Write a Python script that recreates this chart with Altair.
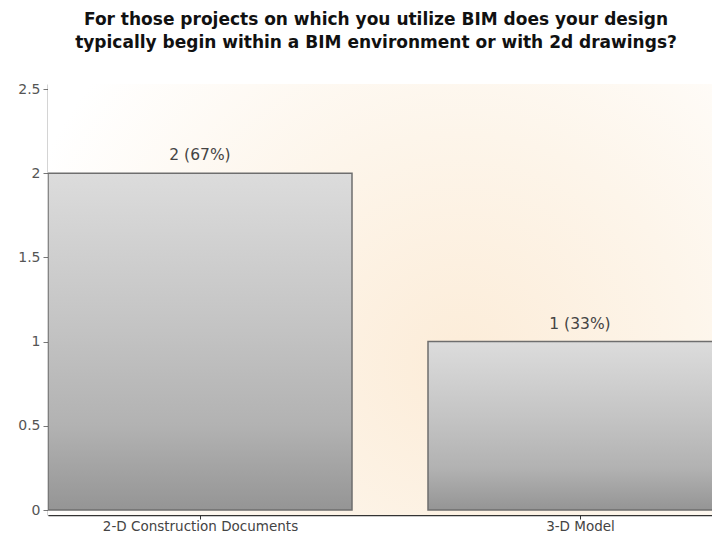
import altair as alt
import pandas as pd

categories = ["2-D Construction Documents", "3-D Model"]
counts = [2, 1]
percents = [67, 33]
positions = [0, 1]

df = pd.DataFrame({
    "cat": categories,
    "count": counts,
    "pct": percents,
    "pos": positions,
})
df["x0"] = df["pos"] - 0.4
df["x1"] = df["pos"] + 0.4
df["label"] = df["count"].astype(str) + " (" + df["pct"].astype(str) + "%)"

W, H = 664, 431
STEP = 380
xscale = alt.Scale(domain=[-0.4, -0.4 + W / STEP], nice=False, zero=False)
yscale = alt.Scale(domain=[0, 2.5], nice=False)

label_expr = "datum.value == 0 ? '" + categories[0] + "' : (datum.value == 1 ? '" + categories[1] + "' : '')"

FONT = "DejaVu Sans"

bg = alt.Chart(pd.DataFrame({"a": [0]})).mark_rect(
    fill=alt.Gradient(
        gradient="radial",
        stops=[alt.GradientStop(color="#fcecd8", offset=0),
               alt.GradientStop(color="#fdf5ea", offset=0.5),
               alt.GradientStop(color="#ffffff", offset=1)],
        x1=0.62, y1=0.6, r1=0, x2=0.62, y2=0.6, r2=0.7,
    )
).encode(x=alt.value(0), x2=alt.value(W), y=alt.value(0), y2=alt.value(H))

base = alt.Chart(df)

grid = base.mark_bar(opacity=0).encode(
    x=alt.X("x0:Q", scale=xscale, axis=alt.Axis(
        values=positions, labelExpr=label_expr, title=None, grid=True,
        gridColor="#d6d6d6", domainColor="#333", domainWidth=1.5,
        tickColor="#333", tickSize=4, labelFont=FONT, labelLimit=0,
        labelFontSize=13.5, labelColor="#444", labelPadding=0)),
    x2="x1:Q",
    y=alt.Y("count:Q", scale=yscale, axis=alt.Axis(
        values=[0, 0.5, 1, 1.5, 2, 2.5], format="~g", title=None, grid=True,
        gridColor="#d6d6d6", domainColor="#555", domainWidth=1.5,
        tickColor="#777", tickSize=5, labelFont=FONT,
        labelFontSize=14, labelColor="#555", labelPadding=3)),
)

shadow = base.mark_bar(clip=True, fill="#888", opacity=0.35, xOffset=2, yOffset=1).encode(
    x=alt.X("x0:Q", scale=xscale), x2="x1:Q", y=alt.Y("count:Q", scale=yscale), y2=alt.datum(0)
)

bars = base.mark_bar(
    clip=True,
    stroke="#6e6e6e",
    strokeWidth=1.5,
    fill=alt.Gradient(
        gradient="linear",
        stops=[alt.GradientStop(color="#dcdcdc", offset=0),
               alt.GradientStop(color="#c4c4c4", offset=0.45),
               alt.GradientStop(color="#b2b2b2", offset=0.75),
               alt.GradientStop(color="#959595", offset=1)],
        x1=0, x2=0, y1=0, y2=1,
    ),
).encode(
    x=alt.X("x0:Q", scale=xscale), x2="x1:Q",
    y=alt.Y("count:Q", scale=yscale), y2=alt.datum(0),
)

text = base.mark_text(
    font=FONT, fontSize=15.5, color="#444", baseline="bottom", dy=-10, clip=True
).encode(
    x=alt.X("pos:Q", scale=xscale),
    y=alt.Y("count:Q", scale=yscale),
    text="label:N",
)

chart = alt.layer(bg, grid, shadow, bars, text).properties(
    width=W, height=H,
    autosize=alt.AutoSizeParams(type="none"),
    padding={"left": 40, "top": 76, "right": 0, "bottom": 18},
    title=alt.TitleParams(
        text=["For those projects on which you utilize BIM does your design",
              "typically begin within a BIM environment or with 2d drawings?"],
        font=FONT, fontSize=17, fontWeight="bold", color="#111",
        anchor="middle", dx=-4, offset=30, lineHeight=23,
    ),
).configure_view(stroke=None)

chart.save("out.html", embed_options={"renderer": "svg", "actions": False})
